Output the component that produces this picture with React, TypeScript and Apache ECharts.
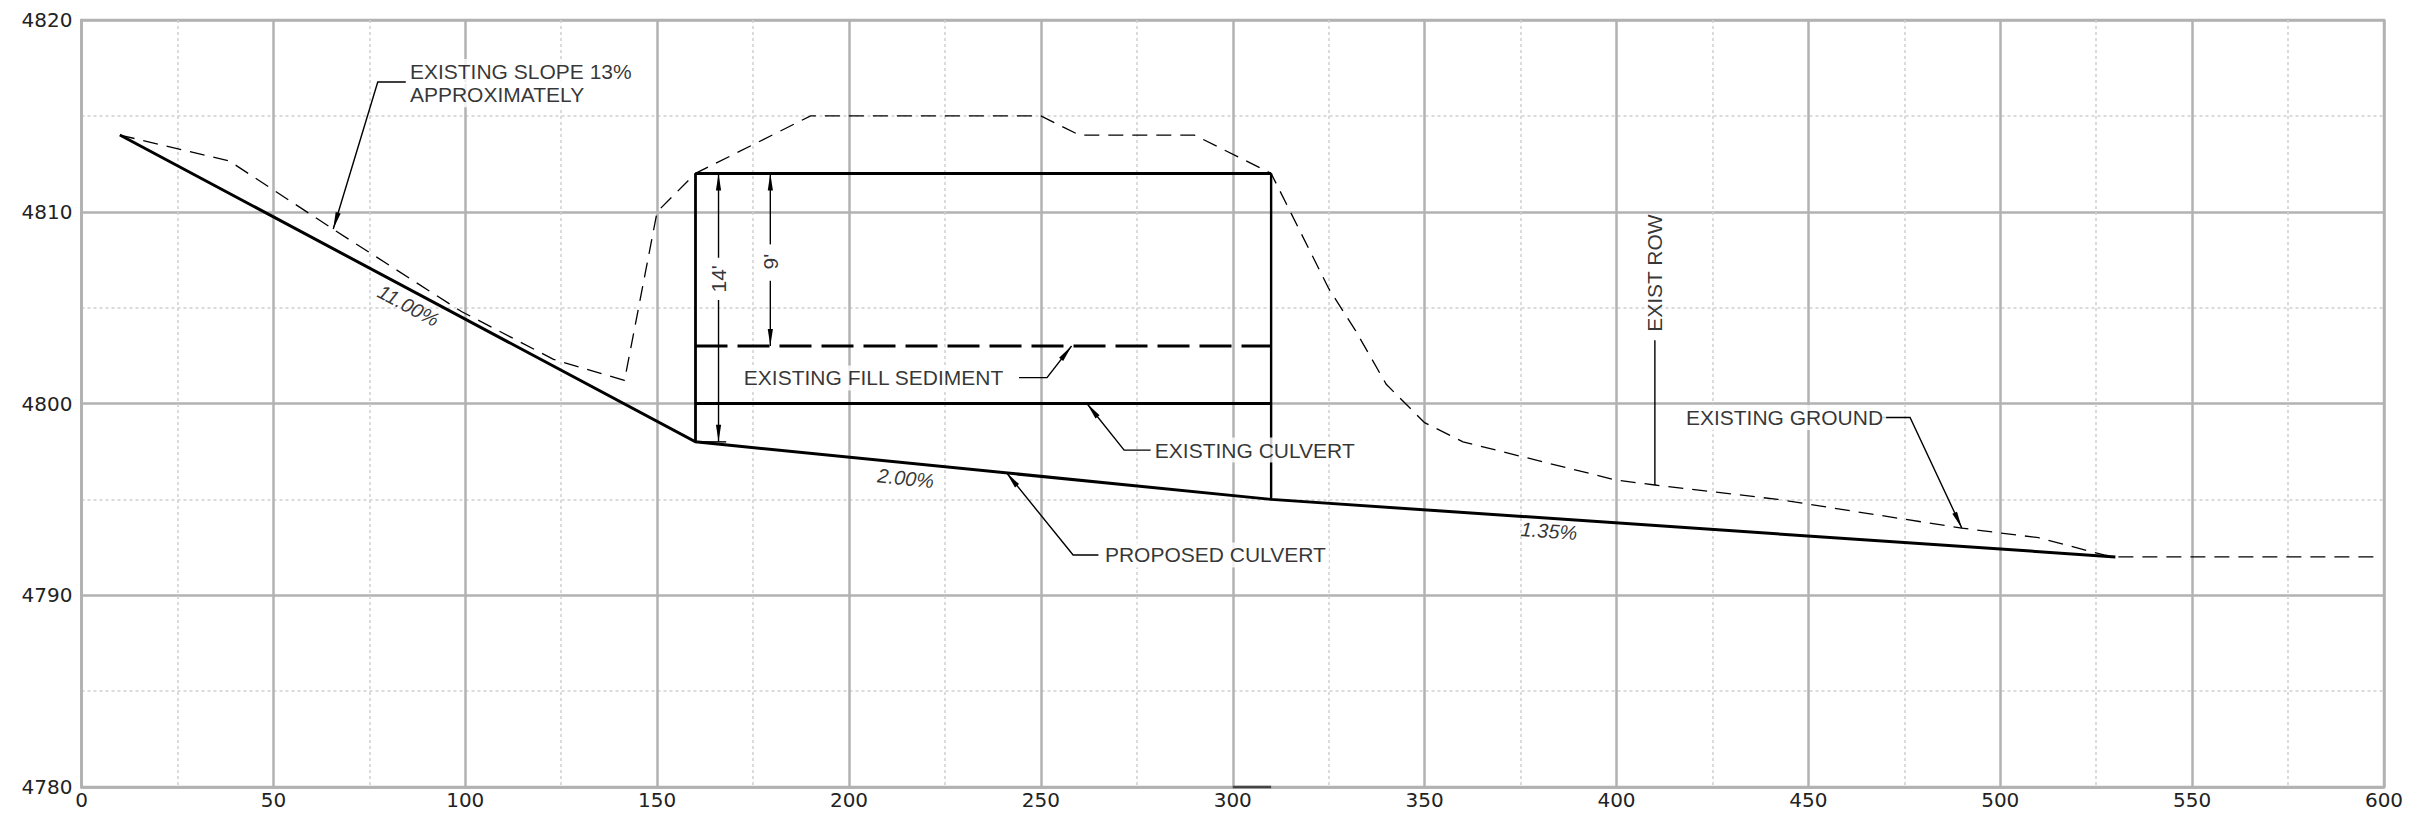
import React, { useEffect, useRef } from "react";
import * as echarts from "echarts";

const proposedCulvert = [[10, 4814], [160, 4798], [310, 4795], [530, 4792]];
const existingGround = [
  [10, 4814], [38.5, 4812.65], [65.5, 4809.1], [86.5, 4806.4], [99, 4804.8], [123, 4802.3], [141.5, 4801.2],
  [150, 4810], [160, 4812], [190, 4815], [250, 4815], [260, 4814], [290, 4814], [310, 4812],
  [315, 4810], [325, 4806], [332, 4803.8], [340, 4801], [350, 4799], [360, 4798], [400, 4796], [410, 4795.75],
  [442, 4795], [490, 4793.5], [510, 4793], [527, 4792.1], [530, 4792], [598, 4792],
];
const culvertTop = [[160, 4812], [310, 4812]];
const culvertBottom = [[160, 4800], [310, 4800]];
const culvertLeft = [[160, 4812], [160, 4798]];
const culvertRight = [[310, 4812], [310, 4795]];
const fillSediment = [[160, 4803], [310, 4803]];
const baseSegment = [[300, 4780], [310, 4780]];

const thinLines = [
  [[84.5, 4816.77], [77.2, 4816.77], [65.6, 4809.1]],
  [[244.3, 4801.35], [251.6, 4801.35], [258, 4803]],
  [[278.6, 4797.57], [271.7, 4797.57], [262, 4800]],
  [[265, 4792.1], [258.4, 4792.1], [241, 4796.4]],
  [[410, 4803.3], [410, 4795.75]],
  [[469.4, 4799.27], [476.5, 4799.27], [490, 4793.5]],
  [[166, 4812], [166, 4807.6]],
  [[166, 4805.4], [166, 4798]],
  [[160, 4798], [168, 4798]],
  [[179.5, 4812], [179.5, 4808.3]],
  [[179.5, 4806.4], [179.5, 4803]],
];
// tip x, tip y, tail x, tail y
const arrows = [
  [65.6, 4809.1, 77.2, 4816.77],
  [258, 4803, 251.6, 4801.35],
  [262, 4800, 271.7, 4797.57],
  [241, 4796.4, 258.4, 4792.1],
  [490, 4793.5, 476.5, 4799.27],
  [166, 4812, 166, 4807],
  [166, 4798, 166, 4805],
  [179.5, 4812, 179.5, 4808],
  [179.5, 4803, 179.5, 4806],
];
const leftNotes = [
  ["EXISTING SLOPE 13%", 84.8, 4817.32],
  ["APPROXIMATELY", 84.8, 4816.1],
  ["EXISTING FILL SEDIMENT", 171.8, 4801.33],
  ["EXISTING CULVERT", 278.9, 4797.57],
  ["PROPOSED CULVERT", 265.9, 4792.1],
  ["EXISTING GROUND", 417.3, 4799.27],
];
const slopeNotes = [
  ["11.00%", 85.2, 4805.1, -28],
  ["2.00%", 214.8, 4796.1, -6],
  ["1.35%", 382.4, 4793.35, -4],
];
const dimensionNotes = [
  ["14'", 166, 4806.5, 90],
  ["9'", 179.5, 4807.4, 90],
  ["EXIST ROW", 410, 4806.8, 90],
];

const INK = "#000";
const GRID = "#b2b2b2";
const MINOR = "#cfcfcf";
const NOTE_FONT = "Liberation Sans";

const line = (data: number[][], width: number, extra: any = {}) => ({
  type: "line",
  data,
  showSymbol: false,
  silent: true,
  animation: false,
  clip: false,
  z: 3,
  lineStyle: { color: "#000", width, cap: "butt", join: "miter", ...extra },
});

const rotatedSeries = (notes: any[][], fontStyle: string, fontSize: number) => ({
  type: "scatter",
  silent: true,
  symbolSize: 0,
  z: 5,
  data: notes.map((n) => ({
    value: [n[1], n[2]],
    label: {
      show: true,
      position: "inside",
      align: "center",
      verticalAlign: "middle",
      rotate: n[3],
      formatter: n[0],
      fontFamily: NOTE_FONT,
      fontStyle,
      fontSize,
      color: INK,
    },
  })),
});

export default function App() {
  const ref = useRef<HTMLDivElement>(null);
  useEffect(() => {
    const chart = echarts.init(ref.current!, undefined, { renderer: "svg" });
    const axisCommon = {
      axisTick: { show: false },
      axisLine: { show: true, lineStyle: { color: GRID, width: 2.5 } },
      splitLine: { show: true, lineStyle: { color: GRID, width: 2.5 } },
      minorTick: { show: false, splitNumber: 2 },
      minorSplitLine: { show: true, lineStyle: { color: MINOR, width: 1.5, type: [3, 3] } },
    };
    const labelFont = { fontFamily: "DejaVu Sans", fontSize: 20, color: "#222" };
    chart.setOption({
      animation: false,
      backgroundColor: "#fff",
      grid: { left: 81.5, right: 33, top: 20, bottom: 27, show: true, borderColor: GRID, borderWidth: 2.5, backgroundColor: "#fff" },
      xAxis: { type: "value", min: 0, max: 600, interval: 50, ...axisCommon, axisLabel: { ...labelFont, margin: 3 } },
      yAxis: {
        type: "value",
        min: 4780,
        max: 4820,
        interval: 10,
        ...axisCommon,
        axisLabel: { ...labelFont, margin: 9, formatter: (v: number) => String(v) },
      },
      series: [
        line(existingGround, 1.3, { type: [15, 9] }),
        line(fillSediment, 3, { type: [32, 10] }),
        line(culvertTop, 3),
        line(culvertBottom, 3),
        line(culvertLeft, 2.8),
        line(culvertRight, 2.4),
        line(proposedCulvert, 3),
        line(baseSegment, 2.5, { color: "#444" }),
        ...thinLines.map((d) => line(d, 1.4)),
        {
          type: "custom",
          silent: true,
          clip: false,
          z: 4,
          data: arrows,
          renderItem: (_p: any, api: any) => {
            const tip = api.coord([api.value(0), api.value(1)]);
            const tail = api.coord([api.value(2), api.value(3)]);
            const dx = tail[0] - tip[0];
            const dy = tail[1] - tip[1];
            const len = Math.hypot(dx, dy) || 1;
            const ux = dx / len;
            const uy = dy / len;
            const L = 17;
            const W = 2.6;
            return {
              type: "polygon",
              shape: {
                points: [
                  tip,
                  [tip[0] + ux * L - uy * W, tip[1] + uy * L + ux * W],
                  [tip[0] + ux * L + uy * W, tip[1] + uy * L - ux * W],
                ],
              },
              style: { fill: "#000" },
            };
          },
          encode: { x: 0, y: 1 },
        },
        {
          type: "scatter",
          silent: true,
          symbolSize: 0,
          z: 5,
          data: leftNotes.map((n) => ({
            value: [n[1], n[2]],
            label: {
              show: true,
              position: "right",
              distance: 0,
              formatter: n[0] as string,
              fontFamily: NOTE_FONT,
              fontSize: 21,
              color: INK,
              backgroundColor: "#fff",
              padding: [2, 3],
            },
          })),
        },
        rotatedSeries(slopeNotes, "italic", 20),
        rotatedSeries(dimensionNotes, "normal", 21),
      ],
    });
    return () => chart.dispose();
  }, []);
  return (
    <div
      ref={ref}
      style={{ position: "absolute", left: 0, top: 0, width: 2417, height: 814, background: "#fff" }}
    />
  );
}
